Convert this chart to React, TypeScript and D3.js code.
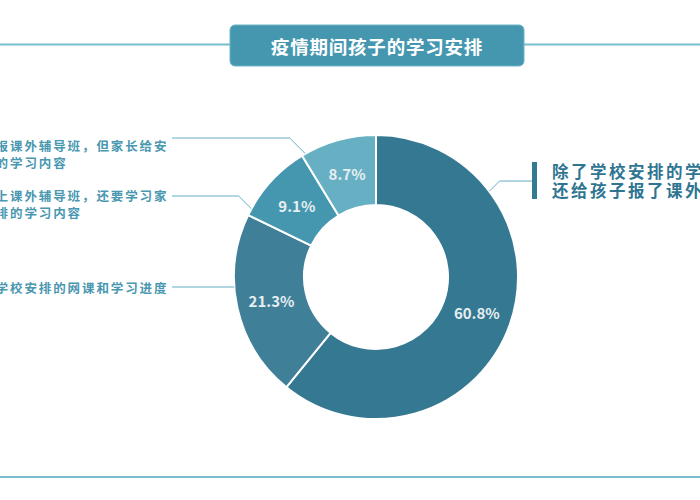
import React from 'react';
import * as d3 from 'd3';

// Chart data
const title = '疫情期间孩子的学习安排';
const categories = [
  '除了学校安排的学习内容，还给孩子报了课外辅导班',
  '孩子只按学校安排的网课和学习进度',
  '给孩子报上课外辅导班，还要学习家长额外安排的学习内容',
  '没给孩子报课外辅导班，但家长给安排了额外的学习内容',
];
const values = [60.8, 21.3, 9.1, 8.7];
const colors = ['#347892', '#3f7f98', '#4597af', '#67b0c4'];

// label lines (text wrapped as in the original)
const labelLines = [
  ['除了学校安排的学习内容，', '还给孩子报了课外辅导班'],
  ['孩子只按学校安排的网课和学习进度'],
  ['给孩子报上课外辅导班，还要学习家', '长额外安排的学习内容'],
  ['没给孩子报课外辅导班，但家长给安', '排了额外的学习内容'],
];

const W = 700;
const H = 500;
const cx = 376;
const cy = 277;
const outerR = 142;
const innerR = 72;

// leader layout: anchor angle on outer rim (deg) and label y
const leaderAngle = [52.9, 266, 298.7, 330.2];
const leaderY = [181, 287, 196, 138];

const font = '"Noto Sans CJK SC", "Noto Sans", sans-serif';

const App: React.FC = () => {
  const pie = d3.pie<number>().sort(null).value(d => d);
  const arcs = pie(values);
  const arc = d3.arc<d3.PieArcDatum<number>>().innerRadius(innerR).outerRadius(outerR);

  const leaders = arcs.map((a, i) => {
    const ang = (leaderAngle[i] * Math.PI) / 180;
    const ax = cx + outerR * Math.sin(ang);
    const ay = cy - outerR * Math.cos(ang);
    const ly = leaderY[i];
    const dy = Math.abs(ay - ly);
    const right = i === 0;
    const bx = right ? ax + dy : ax - dy;
    const endX = right ? 533 : 172;
    return { path: `M${ax},${ay}L${bx},${ly}L${endX},${ly}`, right, ly };
  });

  return (
    <svg width={W} height={H} style={{ position: 'absolute', left: 0, top: 0, background: '#fff' }}>
      {/* frame lines */}
      <line x1={0} x2={W} y1={44.5} y2={44.5} stroke="#78bccd" strokeWidth={2} />
      <line x1={0} x2={W} y1={477} y2={477} stroke="#78bccd" strokeWidth={2} />

      {/* title box */}
      <rect x={230} y={25} width={294} height={41} rx={5} fill="#4597b0" stroke="#6db5c8" strokeWidth={1} />
      <text x={377} y={45.5} textAnchor="middle" dominantBaseline="central" fill="#fff"
        fontFamily={font} fontWeight={700} fontSize={18.5} letterSpacing={0.8}>{title}</text>

      {/* donut */}
      <g transform={`translate(${cx},${cy})`}>
        {arcs.map((a, i) => (
          <path key={i} d={arc(a) || ''} fill={colors[i]} stroke="#fff" strokeWidth={2} />
        ))}
        {arcs.map((a, i) => {
          const [x, y] = arc.centroid(a);
          return (
            <text key={i} x={x} y={y} textAnchor="middle" dominantBaseline="central"
              fill="#e6eef1" fontFamily={font} fontWeight={700} fontSize={15}>
              {d3.format('.1f')(a.data)}%
            </text>
          );
        })}
      </g>

      {/* leader lines */}
      {leaders.map((l, i) => (
        <path key={i} d={l.path} fill="none" stroke="#62b0c4" strokeWidth={1} />
      ))}

      {/* right label */}
      <rect x={532} y={162} width={5} height={37} fill="#347892" />
      {labelLines[0].map((t, j) => (
        <text key={j} x={552} y={170.5 + j * 19.5} dominantBaseline="central" fill="#2f7592"
          fontFamily={font} fontWeight={700} fontSize={16.5} letterSpacing={2.5}>{t}</text>
      ))}

      {/* left labels */}
      {[3, 2, 1].map(i => {
        const lines = labelLines[i];
        const y0 = i === 1 ? 287 : i === 2 ? 195 : 145;
        return lines.map((t, j) => (
          <text key={`${i}-${j}`} x={-62} y={y0 + j * 17} dominantBaseline="central" fill="#4997b0"
            fontFamily={font} fontWeight={700} fontSize={12.5} letterSpacing={1.9}>{t}</text>
        ));
      })}
    </svg>
  );
};

export default App;
